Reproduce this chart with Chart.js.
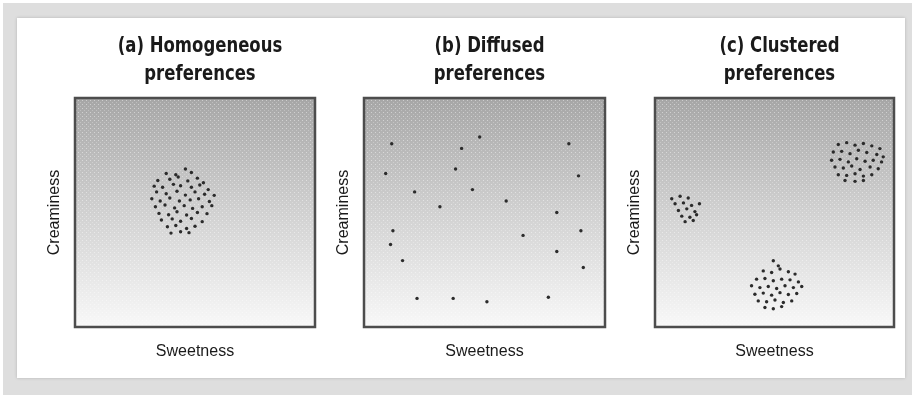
<!DOCTYPE html>
<html>
<head>
<meta charset="utf-8">
<script src="https://cdn.jsdelivr.net/npm/chart.js@4.4.1/dist/chart.umd.min.js"></script>
<style>
  body { margin: 0; background: #fff; width: 912px; height: 395px; overflow: hidden; position: relative; }
  #band { position: absolute; left: 3px; top: 3px; width: 909px; height: 392px; background: #dedede; }
  #sheet { position: absolute; left: 17px; top: 18px; width: 888px; height: 360px; background: #fff; box-shadow: 0 0 3px #b5b5b5; }
  .panel { position: absolute; top: 20px; height: 350px; }
</style>
</head>
<body>
<div id="band"></div>
<div id="sheet"></div>
<div class="panel" style="left:30px;width:300px"><canvas id="chart-a"></canvas></div>
<div class="panel" style="left:319px;width:301px"><canvas id="chart-b"></canvas></div>
<div class="panel" style="left:610px;width:294px"><canvas id="chart-c"></canvas></div>
<script>
const panel_titles = [
    ["(a) Homogeneous", "preferences"],
    ["(b) Diffused", "preferences"],
    ["(c) Clustered", "preferences"]
]
const x_label = "Sweetness"
const y_label = "Creaminess"

const homogeneous_points = [
    [38,67],[42,66.5],[46,69],[48.5,67.5],
    [34.5,64],[39.5,64.5],[43,65.5],[47,63.8],[51,65],[53.5,63],
    [33,61.5],[36.5,61],[41,62.3],[44,61.7],[48.5,61],[52,62],[55.5,60],
    [34,59],[38,58.2],[42.5,59.3],[46,57.6],[50,59],[54,58],[58,57.5],
    [32,56],[35.5,55],[39.5,56.3],[43.5,55],[48,55.5],[51.5,56],[56,54.8],
    [33.5,52.5],[37.5,53.3],[41.5,52],[45.5,53],[49,51.8],[53,52.5],[57,53],
    [35,49.6],[39,49],[42.5,50.3],[46.5,48.9],[51,50],[55,49.5],
    [36,46.7],[40.5,47.2],[44,46.2],[48.5,47.4],[53,46],
    [38.5,43.8],[42,44.3],[46.5,43],[50,44],
    [40,41],[44,41.6],[47.5,41.2]
]

const diffused_points = [
    [48,83],[11.5,80],[40.5,78],[85,80],[38,69],[9,67],[89,66],[21,59],
    [45,60],[59,55],[31.5,52.5],[80,50],[12,42],[66,40],[90,42],[11,36],
    [80,33],[16,29],[91,26],[22,12.5],[37,12.5],[51,11],[76.5,13]
]

const cluster_sweet_creamy = [
    [76.7,79.7],[80.2,80.5],[83.7,79.4],[87.2,80.1],[90.7,79.1],[94.1,77.9],
    [74.6,76.4],[78.1,76.7],[81.6,75.7],[85.1,77.2],[88.6,76.2],[92.8,75.3],[95.5,74.3],
    [73.9,72.8],[77.4,73.2],[80.9,72.1],[84.4,73.5],[87.9,72.4],[91.3,72.8],[94.8,72.1],
    [75.3,69.9],[78.8,69.4],[82.3,70.3],[85.8,68.8],[90,69.9],[93.4,69.1],
    [76.7,66.5],[80.2,66.2],[83.7,66.9],[87.2,65.9],[90.7,66.5],
    [79.5,64],[83.7,63.6],[87.2,64]
]
const cluster_plain_creamy = [
    [7,56],[10.5,57.1],[13.9,56.3],[8.4,53.8],[11.9,54.2],[15.3,53.1],[18.6,53.8],
    [9.8,50.9],[13.3,51.6],[16.7,50.4],[11.2,48.4],[14.6,47.9],[17.4,49],[12.6,46],[16,46.5]
]
const cluster_mid_light = [
    [49.5,28.9],[51.6,26.7],
    [45.3,24.5],[48.8,23.8],[52.3,25.3],[55.8,24.1],[58.6,23.1],
    [42.5,20.9],[46,21.2],[49.5,20.2],[53,20.9],[56.5,20.6],[60,19.7],
    [40.4,18],[43.9,17.2],[47.4,17.7],[50.9,16.8],[54.4,18],[57.9,17.2],[61.4,17.7],
    [41.8,14.3],[45.3,14.8],[48.8,13.9],[52.3,15],[55.8,14.2],[59.3,14.6],
    [43.2,11.4],[46.7,11],[50.2,11.8],[53.7,10.7],[57.2,11.4],
    [46,8.5],[49.5,8],[53,8.9]
]

const title_font = "'DejaVu Sans', sans-serif"
const axis_font = "'Liberation Sans', Arial, sans-serif"

// little screen of light dots laid over the grey, like the printed halftone
const screen_tile = document.createElement("canvas")
screen_tile.width = 4
screen_tile.height = 4
const tctx = screen_tile.getContext("2d")
tctx.fillStyle = "rgba(255,255,255,0.45)"
tctx.fillRect(0, 0, 1, 1)
tctx.fillStyle = "rgba(255,255,255,0.25)"
tctx.fillRect(2, 2, 1, 1)

// shaded plot box: grey at the top fading to white, dark frame round it
const panel_box = {
    id: "panel_box",
    beforeDraw(chart) {
        const a = chart.chartArea
        const ctx = chart.ctx
        const grad = ctx.createLinearGradient(0, a.top, 0, a.bottom)
        grad.addColorStop(0, "#a6a6a6")
        grad.addColorStop(0.5, "#d1d1d1")
        grad.addColorStop(1, "#f8f8f8")
        ctx.save()
        ctx.fillStyle = grad
        ctx.fillRect(a.left, a.top, a.right - a.left, a.bottom - a.top)
        ctx.fillStyle = ctx.createPattern(screen_tile, "repeat")
        ctx.fillRect(a.left, a.top, a.right - a.left, a.bottom - a.top)
        ctx.restore()
    },
    afterDraw(chart) {
        const a = chart.chartArea
        const ctx = chart.ctx
        ctx.save()
        ctx.strokeStyle = "#4d4d4d"
        ctx.lineWidth = 2.5
        ctx.strokeRect(a.left, a.top, a.right - a.left, a.bottom - a.top)
        ctx.restore()
    }
}

// two-line heading in a tall, squeezed bold face above each box
const squeezed_title = {
    id: "squeezed_title",
    afterDraw(chart, args, opts) {
        const a = chart.chartArea
        const ctx = chart.ctx
        const cx = (a.left + a.right) / 2 + 5
        ctx.save()
        ctx.fillStyle = "#1a1a1a"
        ctx.font = "bold 22px " + title_font
        ctx.textAlign = "center"
        ctx.textBaseline = "middle"
        opts.lines.forEach(function(line, i) {
            ctx.save()
            ctx.translate(cx, a.top - 52 + i * 28)
            ctx.scale(0.75, 1)
            ctx.fillText(line, 0, 0)
            ctx.restore()
        })
        ctx.restore()
    }
}

function to_xy(points) {
    return points.map(p => ({x: p[0], y: p[1]}))
}

function make_panel(canvas_id, title, points, right_pad) {
    new Chart(document.getElementById(canvas_id), {
        type: "scatter",
        data: {
            datasets: [{
                data: to_xy(points),
                backgroundColor: "#2b2b2b",
                borderWidth: 0,
                pointRadius: 1.7
            }]
        },
        options: {
            responsive: true,
            maintainAspectRatio: false,
            animation: false,
            events: [],
            layout: {padding: {left: 0, right: right_pad, top: 78, bottom: 0}},
            plugins: {
                legend: {display: false},
                tooltip: {enabled: false},
                title: {display: false},
                squeezed_title: {lines: title}
            },
            scales: {
                x: {
                    min: 0, max: 100,
                    grid: {display: false},
                    border: {display: false},
                    ticks: {display: false},
                    title: {
                        display: true, text: x_label, color: "#1a1a1a",
                        font: {family: axis_font, size: 16, lineHeight: 1.2},
                        padding: {top: 0, bottom: 8.4}
                    },
                    afterFit: function(scale) { scale.height = 43 }
                },
                y: {
                    min: 0, max: 100,
                    grid: {display: false},
                    border: {display: false},
                    ticks: {display: false},
                    title: {
                        display: true, text: y_label, color: "#1a1a1a",
                        font: {family: axis_font, size: 16, lineHeight: 1.2},
                        padding: {top: 15.4, bottom: 0}
                    },
                    afterFit: function(scale) { scale.width = 45 }
                }
            }
        },
        plugins: [panel_box, squeezed_title]
    })
}

make_panel("chart-a", panel_titles[0], homogeneous_points, 15)
make_panel("chart-b", panel_titles[1], diffused_points, 15)
make_panel("chart-c", panel_titles[2],
    cluster_sweet_creamy.concat(cluster_plain_creamy, cluster_mid_light), 10)
</script>
</body>
</html>
